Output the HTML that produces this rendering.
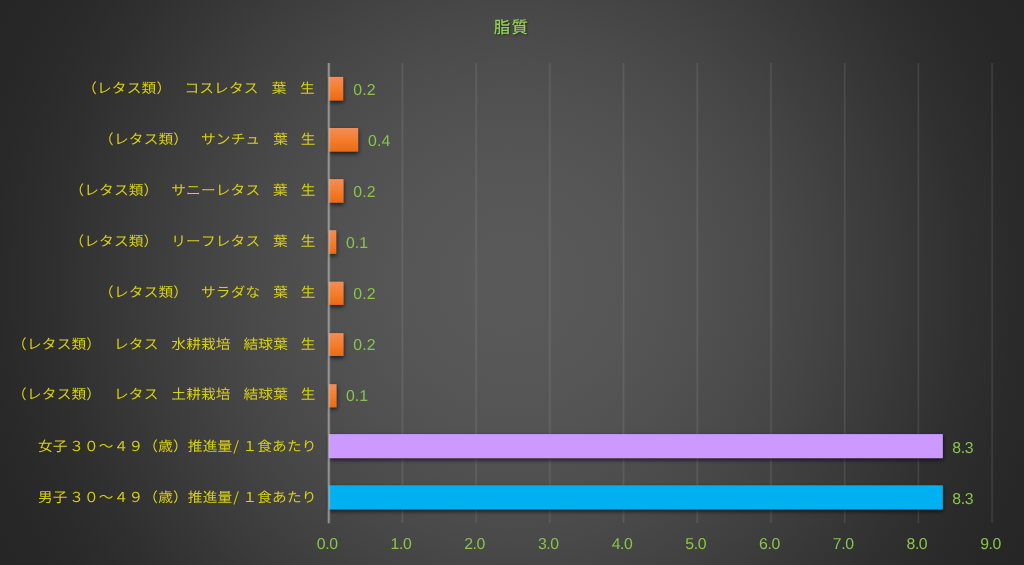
<!DOCTYPE html>
<html lang="ja">
<head>
<meta charset="utf-8">
<title>脂質</title>
<style>
html,body{margin:0;padding:0;}
body{width:1024px;height:565px;overflow:hidden;background:#262626;font-family:"Liberation Sans","Noto Sans CJK JP",sans-serif;}
#chart{position:relative;width:1024px;height:565px;overflow:hidden;
 background:radial-gradient(circle 590px at 512px 282.5px,rgb(89.0,89.0,89.0) 0px,rgb(88.9,88.9,88.9) 15px,rgb(88.8,88.8,88.8) 30px,rgb(88.5,88.5,88.5) 44px,rgb(88.1,88.1,88.1) 59px,rgb(87.7,87.7,87.7) 74px,rgb(87.1,87.1,87.1) 88px,rgb(86.4,86.4,86.4) 103px,rgb(85.6,85.6,85.6) 118px,rgb(84.7,84.7,84.7) 133px,rgb(83.7,83.7,83.7) 148px,rgb(82.7,82.7,82.7) 162px,rgb(81.5,81.5,81.5) 177px,rgb(80.2,80.2,80.2) 192px,rgb(78.9,78.9,78.9) 206px,rgb(77.4,77.4,77.4) 221px,rgb(75.9,75.9,75.9) 236px,rgb(74.3,74.3,74.3) 251px,rgb(72.6,72.6,72.6) 266px,rgb(70.9,70.9,70.9) 280px,rgb(69.1,69.1,69.1) 295px,rgb(67.2,67.2,67.2) 310px,rgb(65.3,65.3,65.3) 324px,rgb(63.3,63.3,63.3) 339px,rgb(61.4,61.4,61.4) 354px,rgb(59.3,59.3,59.3) 369px,rgb(57.3,57.3,57.3) 384px,rgb(55.3,55.3,55.3) 398px,rgb(53.3,53.3,53.3) 413px,rgb(51.3,51.3,51.3) 428px,rgb(49.4,49.4,49.4) 442px,rgb(47.5,47.5,47.5) 457px,rgb(45.8,45.8,45.8) 472px,rgb(44.1,44.1,44.1) 487px,rgb(42.6,42.6,42.6) 502px,rgb(41.3,41.3,41.3) 516px,rgb(40.1,40.1,40.1) 531px,rgb(39.2,39.2,39.2) 546px,rgb(38.6,38.6,38.6) 560px,rgb(38.1,38.1,38.1) 575px,rgb(38.0,38.0,38.0) 590px);}
#lines{position:absolute;left:0;top:0;}
.title{text-rendering:geometricPrecision;position:absolute;left:-1.1px;width:1024px;top:13.5px;height:24px;line-height:24px;text-align:center;color:#92d050;font-size:16.5px;font-weight:500;letter-spacing:1.2px;text-indent:1.2px;transform:scaleX(1.0);text-shadow:1px 1px 2px rgba(0,0,0,.45);font-family:"Noto Sans CJK JP","Liberation Sans",sans-serif;}
.bar{position:absolute;height:24px;left:328.6px;box-shadow:1.5px 2px 3px rgba(0,0,0,.42);}
.o{background:linear-gradient(#f4904e,#f07820 50%,#e8680f);}
.p{background:#cc99ff;}
.b{background:#00b0f0;}
.lab{text-rendering:geometricPrecision;font-weight:400;text-spacing-trim:space-all;font-kerning:none;position:absolute;left:0;height:24px;line-height:24px;white-space:nowrap;color:#d8d010;font-size:13.7px;letter-spacing:0.179px;transform-origin:0 0;font-family:"Noto Sans CJK JP","Liberation Sans",sans-serif;}
.lab .sl{margin-left:0.9px;margin-right:2.95px;}
.val{position:absolute;height:24px;line-height:24px;color:#86c648;font-size:15.8px;letter-spacing:0.1px;white-space:nowrap;text-rendering:geometricPrecision;}
.tick{position:absolute;top:533px;height:24px;line-height:24px;width:60px;text-align:center;color:#86c648;font-size:15.8px;letter-spacing:-0.4px;text-indent:-0.4px;text-rendering:geometricPrecision;}
</style>
</head>
<body>
<div id="chart">
<div class="title">脂質</div>
<svg id="lines" width="1024" height="565" viewBox="0 0 1024 565">
<g stroke="#f2f2f2" fill="none">
<line x1="402.41" y1="63.0" x2="402.41" y2="523.3" stroke-width="3" stroke-opacity="0.028"/><line x1="402.41" y1="63.0" x2="402.41" y2="523.3" stroke-width="1.4" stroke-opacity="0.075"/>
<line x1="476.12" y1="63.0" x2="476.12" y2="523.3" stroke-width="3" stroke-opacity="0.028"/><line x1="476.12" y1="63.0" x2="476.12" y2="523.3" stroke-width="1.4" stroke-opacity="0.075"/>
<line x1="549.83" y1="63.0" x2="549.83" y2="523.3" stroke-width="3" stroke-opacity="0.028"/><line x1="549.83" y1="63.0" x2="549.83" y2="523.3" stroke-width="1.4" stroke-opacity="0.075"/>
<line x1="623.54" y1="63.0" x2="623.54" y2="523.3" stroke-width="3" stroke-opacity="0.028"/><line x1="623.54" y1="63.0" x2="623.54" y2="523.3" stroke-width="1.4" stroke-opacity="0.075"/>
<line x1="697.25" y1="63.0" x2="697.25" y2="523.3" stroke-width="3" stroke-opacity="0.028"/><line x1="697.25" y1="63.0" x2="697.25" y2="523.3" stroke-width="1.4" stroke-opacity="0.075"/>
<line x1="770.96" y1="63.0" x2="770.96" y2="523.3" stroke-width="3" stroke-opacity="0.028"/><line x1="770.96" y1="63.0" x2="770.96" y2="523.3" stroke-width="1.4" stroke-opacity="0.075"/>
<line x1="844.67" y1="63.0" x2="844.67" y2="523.3" stroke-width="3" stroke-opacity="0.028"/><line x1="844.67" y1="63.0" x2="844.67" y2="523.3" stroke-width="1.4" stroke-opacity="0.075"/>
<line x1="918.38" y1="63.0" x2="918.38" y2="523.3" stroke-width="3" stroke-opacity="0.028"/><line x1="918.38" y1="63.0" x2="918.38" y2="523.3" stroke-width="1.4" stroke-opacity="0.075"/>
<line x1="992.09" y1="63.0" x2="992.09" y2="523.3" stroke-width="3" stroke-opacity="0.028"/><line x1="992.09" y1="63.0" x2="992.09" y2="523.3" stroke-width="1.4" stroke-opacity="0.075"/>
</g>
<defs><linearGradient id="og" x1="0" y1="0" x2="0" y2="1"><stop offset="0" stop-color="#f18e58"/><stop offset="0.5" stop-color="#f57d2b"/><stop offset="1" stop-color="#ea6a14"/></linearGradient><filter id="sh" filterUnits="userSpaceOnUse" x="300" y="60" width="700" height="470"><feDropShadow dx="0.3" dy="2" stdDeviation="2.1" flood-color="#000" flood-opacity="0.68"/></filter></defs>
<g filter="url(#sh)">
<rect x="328.90" y="76.90" width="14.25" height="23.60" fill="url(#og)"/>
<rect x="328.90" y="128.00" width="29.20" height="23.60" fill="url(#og)"/>
<rect x="328.90" y="179.10" width="14.60" height="23.60" fill="url(#og)"/>
<rect x="328.90" y="230.20" width="7.30" height="23.60" fill="url(#og)"/>
<rect x="328.90" y="281.70" width="14.60" height="23.20" fill="url(#og)"/>
<rect x="328.90" y="333.10" width="14.60" height="22.90" fill="url(#og)"/>
<rect x="328.90" y="384.20" width="7.60" height="23.10" fill="url(#og)"/>
<rect x="328.90" y="434.10" width="613.90" height="24.00" fill="#cc99ff"/>
<rect x="328.90" y="485.30" width="613.90" height="24.10" fill="#00b0f0"/>
</g>
<line x1="328.8" y1="63.0" x2="328.8" y2="523.3" stroke="#c8c8c8" stroke-opacity="0.27" stroke-width="3"/><line x1="328.8" y1="63.0" x2="328.8" y2="523.3" stroke="#c8c8c8" stroke-opacity="0.55" stroke-width="1.2"/>
</svg>
<div class="lab" style="top:75px;transform:translateX(82.19px) scaleX(1.07)"><span>（レタス類）</span><span style="margin-left:-1.5px">　コスレタス</span><span style="margin-left:-1.5px">　葉</span><span style="margin-left:-1.5px">　生</span></div>
<div class="val" style="top:78.56px;left:353.34px">0.2</div>
<div class="lab" style="top:126px;transform:translateX(99.12px) scaleX(1.07)"><span>（レタス類）</span><span style="margin-left:-1.9px">　サンチュ</span><span style="margin-left:-1.9px">　葉</span><span style="margin-left:-1.9px">　生</span></div>
<div class="val" style="top:129.66px;left:368.08px">0.4</div>
<div class="lab" style="top:177px;transform:translateX(69.41px) scaleX(1.07)"><span>（レタス類）</span><span style="margin-left:-1.9px">　サニーレタス</span><span style="margin-left:-1.9px">　葉</span><span style="margin-left:-1.9px">　生</span></div>
<div class="val" style="top:180.78px;left:353.34px">0.2</div>
<div class="lab" style="top:228px;transform:translateX(69.41px) scaleX(1.07)"><span>（レタス類）</span><span style="margin-left:-1.9px">　リーフレタス</span><span style="margin-left:-1.9px">　葉</span><span style="margin-left:-1.9px">　生</span></div>
<div class="val" style="top:231.88px;left:345.97px">0.1</div>
<div class="lab" style="top:279px;transform:translateX(99.12px) scaleX(1.07)"><span>（レタス類）</span><span style="margin-left:-1.9px">　サラダな</span><span style="margin-left:-1.9px">　葉</span><span style="margin-left:-1.9px">　生</span></div>
<div class="val" style="top:283.00px;left:353.34px">0.2</div>
<div class="lab" style="top:331px;transform:translateX(12.12px) scaleX(1.07)"><span>（レタス類）</span><span style="margin-left:-1.9px">　レタス</span><span style="margin-left:-1.9px">　水耕栽培</span><span style="margin-left:-1.9px">　結球葉</span><span style="margin-left:-1.9px">　生</span></div>
<div class="val" style="top:334.11px;left:353.34px">0.2</div>
<div class="lab" style="top:381px;transform:translateX(12.12px) scaleX(1.07)"><span>（レタス類）</span><span style="margin-left:-1.9px">　レタス</span><span style="margin-left:-1.9px">　土耕栽培</span><span style="margin-left:-1.9px">　結球葉</span><span style="margin-left:-1.9px">　生</span></div>
<div class="val" style="top:385.21px;left:345.97px">0.1</div>
<div class="lab" style="top:433px;transform:translateX(37.98px) scaleX(1.07)"><span>女子</span><span style="margin-left:1.4px">３０～４９</span><span>（歳）</span><span>推進量</span><span class="sl">/</span><span>１食あたり</span></div>
<div class="val" style="top:437.02px;left:952.23px;letter-spacing:-0.35px">8.3</div>
<div class="lab" style="top:484px;transform:translateX(37.98px) scaleX(1.07)"><span>男子</span><span style="margin-left:1.4px">３０～４９</span><span>（歳）</span><span>推進量</span><span class="sl">/</span><span>１食あたり</span></div>
<div class="val" style="top:488.13px;left:952.23px;letter-spacing:-0.35px">8.3</div>
<div class="tick" style="left:297.40px">0.0</div>
<div class="tick" style="left:371.11px">1.0</div>
<div class="tick" style="left:444.82px">2.0</div>
<div class="tick" style="left:518.53px">3.0</div>
<div class="tick" style="left:592.24px">4.0</div>
<div class="tick" style="left:665.95px">5.0</div>
<div class="tick" style="left:739.66px">6.0</div>
<div class="tick" style="left:813.37px">7.0</div>
<div class="tick" style="left:887.08px">8.0</div>
<div class="tick" style="left:960.79px">9.0</div>
</div>
</body>
</html>
